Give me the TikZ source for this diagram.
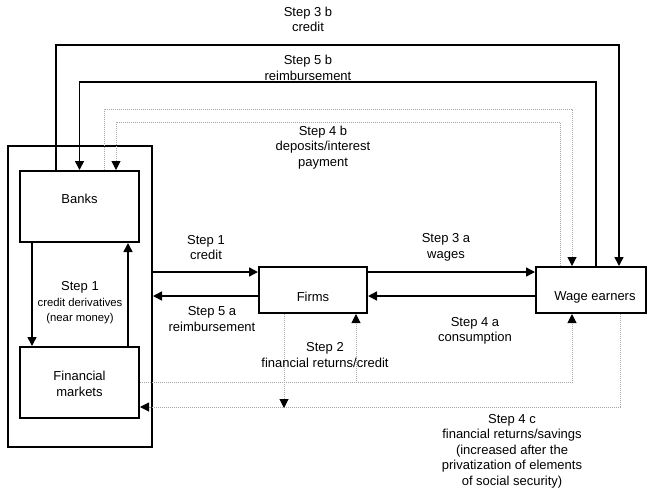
\documentclass[tikz,border=0pt]{standalone}
\usepackage{fontspec}
\setmainfont{Liberation Sans}
\usetikzlibrary{arrows.meta}

\begin{document}
\begin{tikzpicture}[x=1pt, y=-1pt, line join=miter,
    font=\fontsize{13}{15.5}\selectfont,
    box/.style={draw, line width=2pt, inner sep=0pt},
    arr/.style={line width=1.5pt, -{Triangle[length=9pt,width=9pt]}},
    dotline/.style={gray!70, line width=1pt, densely dotted},
    dotarr/.style={dotline, -{Triangle[length=9pt,width=9pt,color=black]}},
    lab/.style={align=center, inner sep=0pt}]

  % ── boxes: outer sector, banks, financial markets, firms, wage earners ──
  \node[box, minimum width=144, minimum height=301] (sector) at (80,296.5) {};
  \node[box, minimum width=119, minimum height=71,
        label={[yshift=7.5pt]center:Banks}] (banks) at (79.5,206.5) {};
  \node[box, minimum width=119, minimum height=71,
        label={[yshift=-1.5pt, align=center]center:Financial\\markets}] (fmkt) at (79.5,382.5) {};
  \node[box, minimum width=108, minimum height=46,
        label={[yshift=-7pt]center:Firms}] (firms) at (313,290) {};
  \node[box, minimum width=110, minimum height=46,
        label={[yshift=-7pt, xshift=4pt]center:Wage earners}] (wage) at (591,290) {};

  % ── solid flows ──
  \draw[arr] ([xshift=-47.5]banks.south) -- ([xshift=-47.5]fmkt.north);
  \draw[arr] ([xshift=48.5]fmkt.north) -- ([xshift=48.5]banks.south);
  \draw[arr] ([yshift=18]firms.west -| sector.east) -- ([yshift=18]firms.west);
  \draw[arr] ([yshift=-6]firms.west) -- ([yshift=-6]firms.west -| sector.east);
  \draw[arr] ([yshift=18]firms.east) -- ([yshift=18]wage.west);
  \draw[arr] ([yshift=-6]wage.west) -- ([yshift=-6]firms.east);
  \draw[arr] ([xshift=-23.5]banks.north) -- ++(0,-125) -| ([xshift=28]wage.north);
  \draw[arr] ([xshift=5]wage.north) -- ++(0,-184) -| (banks.north);

  % ── dotted flows ──
  \draw[dotarr] ([xshift=24.5]banks.north) -- ++(0,-61) -| ([xshift=-19]wage.north);
  \draw[dotarr] ([xshift=-31]wage.north) -- ++(0,-144) -| ([xshift=36.5]banks.north);
  \draw[dotarr] (fmkt.east) -| ([xshift=43]firms.south);
  \draw[dotarr] (fmkt.east) -| ([xshift=-19]wage.south);
  \draw[dotarr] ([xshift=29]wage.south) |- ([yshift=-24.5]fmkt.east);
  \draw[dotarr] ([xshift=-29]firms.south) -- ++(0,94);

  % ── step labels ──
  \node[lab] (s3b) at (308,19.5) {Step 3 b\\credit};
  \node[lab] (s5b) at (308,68) {Step 5 b\\reimbursement};
  \node[lab] (s4b) at (323,147.5) {Step 4 b\\deposits/interest\\payment};
  \node[lab] (s1a) at (206,247.5) {Step 1\\credit};
  \node[lab] (s5a) at (212,319) {Step 5 a\\reimbursement};
  \node[lab] (s3a) at (446,247.5) {Step 3 a\\wages};
  \node[lab] (s4a) at (475,331) {Step 4 a\\consumption};
  \node[lab] (s2) at (325,355) {Step 2\\financial returns/credit};
  \node[lab] (s1) at (80,303) {Step 1\\{\fontsize{11.3}{15}\selectfont credit derivatives}\\{\fontsize{11.3}{15}\selectfont (near money)}};
  \node[lab] (s4c) at (512,451) {Step 4 c\\financial returns/savings\\(increased after the\\privatization of elements\\of social security)};

  \path[use as bounding box] (0,0) rectangle (648,491);
\end{tikzpicture}
\end{document}
